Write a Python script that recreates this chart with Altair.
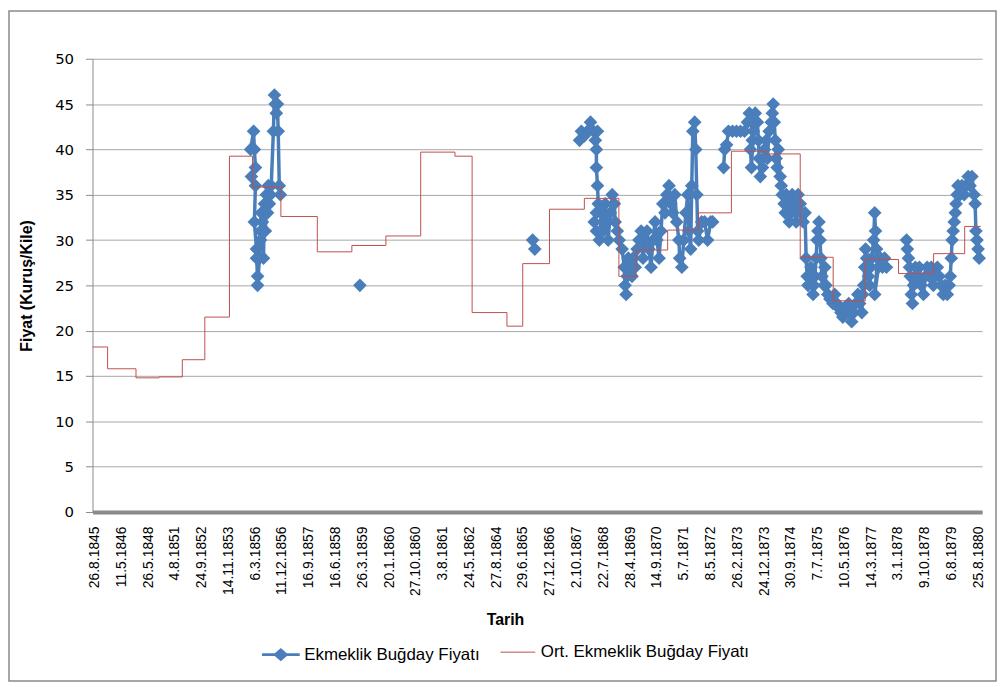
import json
import altair as alt
import pandas as pd

# ---- axis tick labels (category axis, one label every step) ----
date_labels = ["26.8.1845", "11.5.1846", "26.5.1848", "4.8.1851", "24.9.1852", "14.11.1853",
               "6.3.1856", "11.12.1856", "16.9.1857", "16.6.1858", "26.3.1859", "20.1.1860",
               "27.10.1860", "3.8.1861", "24.5.1862", "27.8.1864", "29.6.1865", "27.12.1866",
               "2.10.1867", "22.7.1868", "28.4.1869", "14.9.1870", "5.7.1871", "8.5.1872",
               "26.2.1873", "24.12.1873", "30.9.1874", "7.7.1875", "10.5.1876", "14.3.1877",
               "3.1.1878", "9.10.1878", "6.8.1879", "25.8.1880"]

BLUE_NAME = "Ekmeklik Buğday Fiyatı"
RED_NAME = "Ort. Ekmeklik Buğday Fiyatı"

# ---- average price (step line): position on category axis, price ----
red_pos = [-0.07, 0.49, 1.55, 2.41, 3.28, 4.12, 5.04, 5.90, 6.96, 8.32, 9.61, 10.88, 12.18,
           13.46, 14.10, 15.40, 15.99, 16.99, 18.29, 19.58, 20.22, 21.40, 22.55, 23.78, 25.05,
           26.35, 27.58, 28.78, 30.02, 31.33, 32.49, 33.09]
red_price = [18.2, 15.8, 14.8, 14.9, 16.8, 21.5, 39.25, 35.85, 32.6, 28.7, 29.4, 30.45, 39.7,
             39.25, 22.0, 20.5, 27.4, 33.4, 34.6, 26.0, 28.9, 31.1, 33.0, 39.8, 39.5,
             28.1, 23.3, 27.85, 26.3, 28.5, 31.5, 31.5]

# ---- observed prices: (position, price), one list per unbroken run ----
seg_a = [(5.83, 40), (5.94, 42), (5.97, 40), (6.01, 38), (5.86, 37), (6.01, 36), (5.97, 32),
         (6.05, 29), (6.05, 28), (6.09, 26), (6.09, 25), (6.16, 28), (6.20, 31), (6.23, 33),
         (6.20, 30), (6.27, 32), (6.31, 28), (6.35, 34), (6.38, 31), (6.42, 35), (6.46, 33),
         (6.49, 36), (6.53, 34), (6.57, 35), (6.60, 36), (6.68, 42), (6.72, 46), (6.75, 45),
         (6.79, 44), (6.83, 45), (6.86, 42), (6.90, 36), (6.94, 35)]
seg_b = [(9.91, 25)]
seg_c = [(16.36, 30), (16.44, 29)]
seg_d = [(18.11, 41), (18.18, 42), (18.29, 41.5), (18.40, 42), (18.52, 43), (18.63, 42),
         (18.70, 41), (18.78, 42), (18.74, 40), (18.74, 38), (18.78, 36), (18.81, 34),
         (18.74, 33), (18.66, 32), (18.74, 31), (18.85, 30), (18.92, 33), (19.00, 31),
         (19.07, 34), (19.15, 32), (19.18, 30), (19.26, 33), (19.33, 35), (19.41, 34),
         (19.44, 32), (19.52, 31), (19.59, 30), (19.70, 29), (19.78, 27), (19.81, 25),
         (19.85, 24), (19.89, 26), (19.93, 28), (20.00, 27), (20.07, 26), (20.11, 28),
         (20.19, 27), (20.26, 29), (20.33, 30), (20.41, 31), (20.48, 28), (20.56, 30),
         (20.63, 31), (20.70, 29), (20.78, 27), (20.85, 30), (20.93, 32), (21.00, 30),
         (21.08, 28), (21.15, 31), (21.22, 34), (21.30, 33), (21.37, 35), (21.45, 36),
         (21.52, 34), (21.59, 33), (21.67, 35), (21.74, 32), (21.82, 30), (21.85, 28),
         (21.93, 27), (22.00, 30), (22.08, 33), (22.15, 35), (22.19, 31), (22.26, 29),
         (22.30, 36), (22.34, 42), (22.41, 43), (22.45, 40), (22.49, 35), (22.52, 31),
         (22.56, 30), (22.67, 32), (22.78, 32), (22.89, 30), (23.01, 32), (23.08, 32)]
seg_e = [(23.49, 38), (23.53, 40), (23.60, 40.5), (23.67, 42), (23.82, 42), (23.97, 42),
         (24.12, 42), (24.27, 42), (24.38, 43), (24.45, 44), (24.53, 43), (24.56, 41),
         (24.49, 40), (24.53, 38), (24.60, 42), (24.67, 44), (24.75, 43), (24.79, 41),
         (24.82, 39), (24.86, 37), (24.94, 38), (25.01, 40), (25.08, 41), (25.12, 39),
         (25.19, 42), (25.27, 43), (25.31, 44), (25.34, 45), (25.38, 43), (25.42, 41),
         (25.45, 39), (25.49, 38), (25.53, 40), (25.60, 37), (25.64, 36), (25.68, 35),
         (25.75, 34), (25.79, 33), (25.83, 35), (25.90, 34), (25.94, 32), (26.01, 33),
         (26.05, 35), (26.12, 34), (26.20, 32), (26.27, 35), (26.35, 34), (26.38, 33),
         (26.46, 32), (26.53, 33), (26.57, 28), (26.61, 26), (26.64, 25), (26.72, 26),
         (26.75, 27), (26.83, 24), (26.86, 25), (26.90, 26), (26.94, 28), (26.98, 30),
         (27.01, 31), (27.05, 32), (27.09, 30), (27.12, 28), (27.16, 26), (27.24, 25),
         (27.27, 27), (27.31, 25), (27.38, 24), (27.46, 23.5), (27.57, 23), (27.64, 24),
         (27.72, 23), (27.79, 22.5), (27.87, 22), (27.94, 21.5),
         (28.01, 22.5), (28.08, 22), (28.16, 23), (28.24, 22), (28.27, 21), (28.35, 22),
         (28.42, 23), (28.50, 24), (28.57, 23), (28.65, 22), (28.68, 24), (28.72, 25),
         (28.76, 27), (28.79, 29), (28.83, 28), (28.87, 27), (28.90, 26), (28.94, 25),
         (28.98, 27), (29.02, 28), (29.09, 30), (29.13, 33), (29.16, 31), (29.20, 29),
         (29.24, 28), (29.13, 24), (29.27, 27), (29.35, 28), (29.42, 27), (29.50, 28),
         (29.57, 27)]
seg_f = [(30.32, 30), (30.35, 29), (30.39, 28), (30.43, 27), (30.46, 26), (30.50, 24),
         (30.54, 23), (30.58, 25), (30.65, 27), (30.72, 26), (30.80, 27), (30.87, 25),
         (30.95, 24), (31.02, 26), (31.09, 27), (31.17, 26), (31.24, 27), (31.32, 25),
         (31.39, 26), (31.47, 27), (31.54, 26), (31.61, 25), (31.69, 24), (31.76, 25),
         (31.84, 24), (31.91, 25), (31.95, 26), (31.99, 28), (32.02, 30), (32.06, 31),
         (32.10, 32), (32.14, 33), (32.17, 34), (32.21, 35), (32.24, 36), (32.32, 35),
         (32.39, 36), (32.47, 35), (32.54, 36), (32.62, 37), (32.69, 36), (32.76, 37),
         (32.84, 35), (32.88, 34), (32.91, 31), (32.95, 30), (32.99, 29), (33.03, 28)]

BLUE = "#4A7EBB"
RED = "#C0504D"
FONT = "Liberation Sans"

rows = []
n = 0
for sid, seg in enumerate([seg_a, seg_b, seg_c, seg_d, seg_e, seg_f]):
    for p, v in seg:
        rows.append({"pos": p, "price": v, "seg": sid, "ord": n, "series": BLUE_NAME})
        n += 1
blue_df = pd.DataFrame(rows)
red_df = pd.DataFrame({"pos": red_pos, "price": red_price, "series2": RED_NAME})

x_scale = alt.Scale(domain=[-0.074, 33.14], nice=False, zero=False)
y_scale = alt.Scale(domain=[0, 50], nice=False, zero=True)

x_axis = alt.Axis(values=list(range(len(date_labels))),
                  labelExpr=json.dumps(date_labels) + "[datum.value]",
                  labelAngle=-90, labelFont=FONT, labelFontSize=14, labelColor="#000000",
                  labelPadding=14, ticks=False, tickSize=0, grid=False,
                  domainColor="#8A8A8A", domainWidth=4,
                  title="Tarih", titleFont=FONT, titleFontSize=16, titleFontWeight="bold",
                  titleColor="#000000", titleX=415, titleY=108, titleBaseline="middle",
                  titleAlign="center", labelOverlap=False, labelBound=False, labelFlush=False)
y_axis = alt.Axis(values=list(range(0, 51, 5)), labelFont="DejaVu Sans", labelFontSize=15,
                  labelColor="#000000", labelPadding=12, tickSize=7, tickColor="#8A8A8A",
                  domainColor="#8A8A8A", gridColor="#A6A6A6", grid=True,
                  title="Fiyat (Kuruş/Kile)", titleFont=FONT, titleFontSize=16,
                  titleFontWeight="bold", titleColor="#000000", titleX=-66, titleY=228,
                  titleAngle=270, titleBaseline="middle", titleAlign="center")

blue_color = alt.Color("series:N", scale=alt.Scale(domain=[BLUE_NAME], range=[BLUE]),
                       legend=alt.Legend(title=None, orient="none", legendX=169, legendY=579,
                                         symbolType="M-1,0L1,0M-0.28,0L0,-0.25L0.28,0L0,0.25Z",
                                         symbolSize=1444, symbolStrokeWidth=3,
                                         symbolFillColor=BLUE, symbolStrokeColor=BLUE,
                                         labelFont=FONT, labelFontSize=17, labelColor="#000000",
                                         labelOffset=3, labelLimit=0))

base_x = alt.X("pos:Q", scale=x_scale, axis=x_axis)
base_y = alt.Y("price:Q", scale=y_scale, axis=y_axis)

blue_line = alt.Chart(blue_df).mark_line(strokeWidth=3.5).encode(
    x=base_x, y=base_y, color=blue_color, detail="seg:N", order="ord:Q")
blue_pts = alt.Chart(blue_df).mark_point(shape="diamond", filled=True, size=190, opacity=1).encode(
    x=base_x, y=base_y, color=blue_color)
red_line = alt.Chart(red_df).mark_line(interpolate="step-after", strokeWidth=1).encode(
    x=base_x, y=base_y,
    stroke=alt.Stroke("series2:N", scale=alt.Scale(domain=[RED_NAME], range=[RED]),
                      legend=alt.Legend(title=None, orient="none", legendX=410, legendY=579,
                                        symbolType="stroke", symbolSize=1225,
                                        symbolStrokeWidth=1, labelFont=FONT, labelFontSize=17,
                                        labelColor="#000000", labelOffset=5, labelLimit=0)))

# chart-area frame (decoration only)
frame = alt.Chart(pd.DataFrame({"f": [0]})).mark_rect(
    fill=None, stroke="#8A8A8A", strokeWidth=1.5).encode(
    x=alt.value(-84), x2=alt.value(909), y=alt.value(-48), y2=alt.value(626))

chart = alt.layer(frame, blue_line, blue_pts, red_line).properties(
    width=895, height=456,
    autosize=alt.AutoSizeParams(type="none"),
    padding={"left": 85, "top": 49, "right": 15, "bottom": 172},
).configure_view(stroke=None)

chart.save("out.html", embed_options={"renderer": "svg", "actions": False})
